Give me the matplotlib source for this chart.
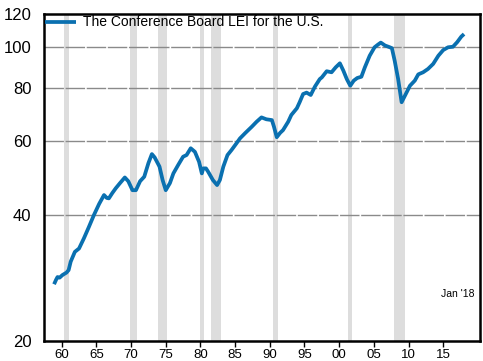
import matplotlib
matplotlib.use('Agg')
import numpy as np
from matplotlib import pyplot as plt

plt.rcParams['font.family'] = ['Liberation Sans', 'DejaVu Sans']

# LEI (2016=100), decimal years
years = [1958.9, 1959.2, 1959.4, 1959.7, 1960.1, 1960.7, 1961.0, 1961.3, 1961.9,
         1962.5, 1963.2, 1963.9, 1964.65, 1965.4, 1966.1, 1966.5, 1966.8, 1967.3,
         1967.8, 1968.4, 1969.1, 1969.6, 1970.2, 1970.7, 1971.3, 1971.9, 1972.5,
         1973.0, 1973.4, 1974.1, 1974.55, 1975.0, 1975.6, 1976.1, 1976.8, 1977.5,
         1978.0, 1978.6, 1979.2, 1979.8, 1980.2, 1980.4, 1980.8, 1981.1, 1981.8,
         1982.4, 1982.8, 1983.3, 1983.9, 1984.5, 1985.2, 1985.7, 1986.5, 1987.4,
         1988.1, 1988.8, 1989.5, 1990.3, 1990.6, 1991.0, 1991.5, 1991.9, 1992.65,
         1993.1, 1993.9, 1994.3, 1994.8, 1995.3, 1995.9, 1996.5, 1997.2, 1997.5,
         1998.2, 1998.9, 1999.5, 2000.1, 2000.6, 2001.1, 2001.6, 2002.1, 2002.6,
         2003.2, 2003.7, 2004.4, 2005.1, 2005.6, 2006.0, 2006.6, 2007.3, 2007.6,
         2008.0, 2008.5, 2009.0, 2009.6, 2010.2, 2010.9, 2011.4, 2012.1, 2012.8,
         2013.55, 2014.3, 2015.0, 2015.7, 2016.4, 2017.0, 2017.6, 2018.0]
lei = [27.3, 28.0, 28.4, 28.3, 28.7, 29.1, 29.5, 30.9, 32.6,
       33.2, 35.1, 37.3, 39.9, 42.4, 44.5, 43.8, 43.7, 45.0,
       46.2, 47.5, 49.0, 48.0, 45.7, 45.7, 48.0, 49.2, 53.0,
       55.7, 54.7, 52.0, 48.3, 45.7, 47.5, 50.1, 52.5, 54.9,
       55.4, 57.5, 56.4, 53.4, 50.1, 51.5, 51.5, 50.6, 48.3,
       47.0, 48.3, 52.0, 55.4, 57.0, 59.1, 60.7, 62.6, 64.7,
       66.5, 68.1, 67.4, 67.1, 64.7, 61.1, 62.6, 63.5, 66.5,
       69.0, 71.6, 74.0, 77.4, 78.0, 77.0, 80.6, 84.0, 84.8,
       87.7, 87.2, 89.6, 91.6, 88.0, 84.0, 81.0, 83.3, 84.5,
       85.1, 89.6, 95.5, 100.0, 101.5, 102.6, 101.0, 100.0, 99.5,
       92.9, 84.0, 74.0, 77.4, 81.0, 83.3, 86.2, 87.2, 88.8,
       91.3, 95.5, 98.5, 100.0, 100.3, 102.8, 106.0, 107.5]

# NBER recessions
rec_start = [1960.3, 1969.9, 1973.85, 1980.0, 1981.5, 1990.5, 2001.2, 2007.9]
rec_end = [1961.1, 1970.9, 1975.2, 1980.55, 1982.9, 1991.2, 2001.9, 2009.5]

xticks = list(range(1960, 2016, 5))
xticklabels = ['60', '65', '70', '75', '80', '85', '90', '95', '00', '05', '10', '15']
yticks = [20, 40, 60, 80, 100, 120]

fig = plt.figure(figsize=(4.83, 3.61), dpi=100)
ax = fig.add_axes([0.0911, 0.0554, 0.9027, 0.9058])

for a, b in zip(rec_start, rec_end):
    ax.axvspan(a, b, color='#dddddd', lw=0, zorder=0)

for v in yticks[1:-1]:
    ax.axhline(v, color='#8a8a8a', lw=1.0, ls=(0, (14, 1.2)), zorder=1)

ax.plot(years, lei, color='#0a70b0', lw=2.7, solid_joinstyle='round',
        solid_capstyle='butt', zorder=3, label='The Conference Board LEI for the U.S.')

ax.set_yscale('log')
ax.set_ylim(20, 120)
ax.set_xlim(1957.45, 2020.3)
ax.set_yticks(yticks)
ax.set_yticklabels([str(v) for v in yticks])
ax.yaxis.set_minor_locator(plt.NullLocator())
ax.set_xticks(xticks)
ax.set_xticklabels(xticklabels)

ax.tick_params(axis='y', length=0, pad=9, labelsize=12)
ax.tick_params(axis='x', length=4, width=1, pad=1.5, labelsize=9.5, direction='out')
for s in ax.spines.values():
    s.set_linewidth(1.8)
    s.set_color('black')

ax.legend(loc='upper left', frameon=False, fontsize=10, handlelength=2.2,
          handletextpad=0.5, borderaxespad=0.0, borderpad=0.1)

ax.text(0.95, 0.145, "Jan '18", transform=ax.transAxes, ha='center', va='center',
        fontsize=7.5)

fig.savefig('out.png', dpi=100)
